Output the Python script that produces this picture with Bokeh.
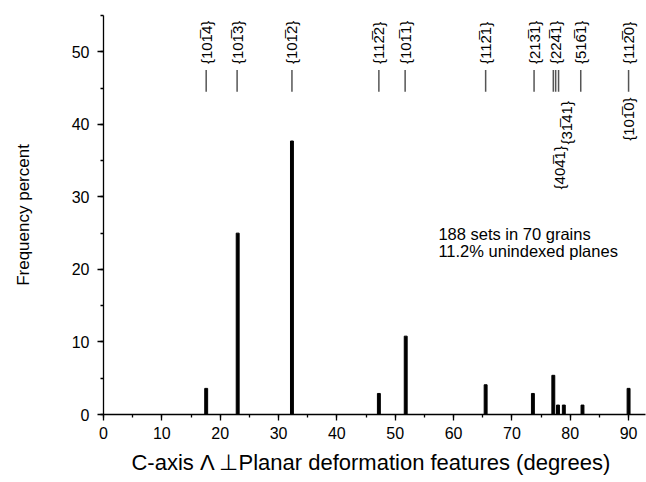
from bokeh.plotting import figure
from bokeh.models import Range1d, Label, ColumnDataSource, SingleIntervalTicker
from bokeh.core.properties import value
from bokeh.embed import file_html
from bokeh.resources import INLINE

FONT = "Liberation Sans"

# Bar data: angle between c-axis and PDF pole (degrees) vs frequency percent
angles = [17.6, 23.0, 32.3, 47.2, 51.8, 65.5, 73.6, 77.1, 77.9, 78.9, 82.1, 90.0]
freq = [3.6, 25.0, 37.7, 2.9, 10.8, 4.1, 2.9, 5.4, 1.3, 1.3, 1.3, 3.6]

# Reference plane marker positions (degrees)
plane_x = [17.6, 22.9, 32.3, 47.2, 51.7, 65.5, 73.8, 77.1, 77.5, 78.0, 81.8, 90.0]
marker_lo = 44.5
marker_hi = 47.5

# Labels above the markers
upper_names = ["{101\u03054}", "{101\u03053}", "{101\u03052}", "{112\u03052}", "{101\u03051}",
               "{112\u03051}", "{213\u03051}", "{224\u03051}", "{516\u03051}", "{112\u03050}"]
upper_x = [17.6, 22.9, 32.3, 47.2, 51.7, 65.5, 73.8, 77.5, 81.8, 90.0]
upper_y = [48.3] * len(upper_x)

# Labels below the markers
lower_names = ["{404\u03051}", "{31\u030541}", "{101\u03050}"]
lower_x = [78.1, 79.4, 90.0]
lower_y = [37.0, 43.2, 43.7]

note_lines = ["188 sets in 70 grains", "11.2% unindexed planes"]
note_x = 57.4
note_y = [24.9, 22.5]

p = figure(width=646, height=482, output_backend="svg", toolbar_location=None,
           x_range=Range1d(0, 92.9), y_range=Range1d(0, 55),
           min_border_left=103, min_border_right=1, min_border_top=15, min_border_bottom=68)
p.outline_line_color = None
p.xgrid.visible = False
p.ygrid.visible = False
p.background_fill_color = "white"
p.border_fill_color = "white"

p.vbar(x=angles, top=freq, bottom=0, width=0.5, color="black")

p.segment(x0=plane_x, y0=[marker_lo] * len(plane_x), x1=plane_x, y1=[marker_hi] * len(plane_x),
          line_color="#555555", line_width=1.5)

up_src = ColumnDataSource(dict(x=upper_x, y=upper_y, t=upper_names))
p.text(x="x", y="y", text="t", source=up_src, angle=1.5708, text_align="left",
       text_baseline="middle", text_font=value(FONT), text_font_size="15px", text_color="black")
lo_src = ColumnDataSource(dict(x=lower_x, y=lower_y, t=lower_names))
p.text(x="x", y="y", text="t", source=lo_src, angle=1.5708, text_align="right",
       text_baseline="middle", text_font=value(FONT), text_font_size="15px", text_color="black")

for yy, txt in zip(note_y, note_lines):
    p.add_layout(Label(x=note_x, y=yy, text=txt, text_font=FONT, text_font_size="16.5px",
                       text_baseline="alphabetic", text_color="black"))

for ax in (p.xaxis[0], p.yaxis[0]):
    ax.axis_line_color = "black"
    ax.axis_line_width = 1.3
    ax.major_tick_line_color = "black"
    ax.minor_tick_line_color = "black"
    ax.major_tick_line_width = 1.3
    ax.minor_tick_line_width = 1.3
    ax.major_tick_in = 0
    ax.major_tick_out = 6
    ax.minor_tick_in = 0
    ax.minor_tick_out = 3
    ax.major_label_text_font = FONT
    ax.major_label_text_font_size = "16px"
    ax.major_label_text_color = "black"
    ax.axis_label_text_font = FONT
    ax.axis_label_text_font_style = "normal"
    ax.axis_label_text_color = "black"

p.xaxis.ticker = SingleIntervalTicker(interval=10, num_minor_ticks=2)
p.yaxis.ticker = SingleIntervalTicker(interval=10, num_minor_ticks=2)
p.xaxis.major_label_standoff = 6
p.yaxis.major_label_standoff = 8
p.xaxis.axis_label = "C-axis \u039b  \u22a5Planar deformation features (degrees)"
p.xaxis.axis_label_text_font_size = "22px"
p.xaxis.axis_label_standoff = 8
p.yaxis.axis_label = "Frequency percent"
p.yaxis.axis_label_text_font_size = "17px"
p.yaxis.axis_label_standoff = 36

open("out.html", "w").write(file_html(p, INLINE))
